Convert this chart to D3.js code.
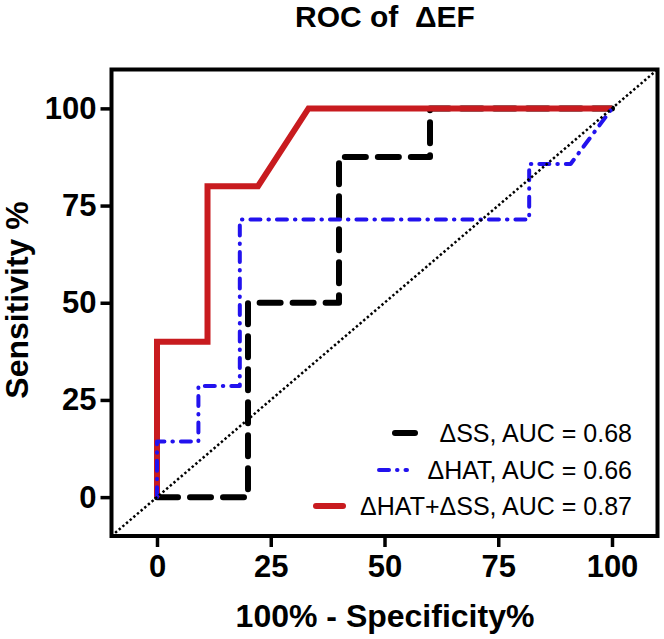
<!DOCTYPE html>
<html>
<head>
<meta charset="utf-8">
<script src="https://cdn.jsdelivr.net/npm/d3@7"></script>
<style>
  body { margin: 0; background: #fff; }
  svg { display: block; font-family: "Liberation Sans", Arial, sans-serif; }
</style>
</head>
<body>
<svg id="chart" width="664" height="639"></svg>
<script>
// ---- data ----
const tickValues = [0, 25, 50, 75, 100];
const ssX   = [0, 20, 20, 40, 40, 60, 60, 100];
const ssY   = [0, 0, 50, 50, 87.5, 87.5, 100, 100];
const hatX  = [0, 0, 9.1, 9.1, 18.2, 18.2, 81.8, 81.8, 90.9, 100];
const hatY  = [0, 14.3, 14.3, 28.6, 28.6, 71.4, 71.4, 85.7, 85.7, 100];
const combX = [0, 0, 11.1, 11.1, 22.2, 33.3, 100];
const combY = [0, 40, 40, 80, 80, 100, 100];
const refX  = [-10, 110];
const refY  = [-10, 110];
const legendLabels = ["\u0394SS, AUC = 0.68", "\u0394HAT, AUC = 0.66", "\u0394HAT+\u0394SS, AUC = 0.87"];

const svg = d3.select("#chart");
const x = d3.scaleLinear().domain([-10, 110]).range([111.5, 657.5]);
const y = d3.scaleLinear().domain([-10, 110]).range([536, 69.5]);

const toPts = (xs, ys) => xs.map((v, i) => [v, ys[i]]);
const line = d3.line().x(d => x(d[0])).y(d => y(d[1]));

// title
svg.append("text")
  .attr("x", 385).attr("y", 27)
  .attr("text-anchor", "middle")
  .attr("font-size", 30).attr("font-weight", "bold")
  .style("white-space", "pre")
  .text("ROC of  \u0394EF");

// axes
const xAxis = svg.append("g").attr("transform", `translate(0,${y(-10)})`)
  .call(d3.axisBottom(x).tickValues(tickValues).tickSize(11).tickPadding(8));
const yAxis = svg.append("g").attr("transform", `translate(${x(-10)},0)`)
  .call(d3.axisLeft(y).tickValues(tickValues).tickSize(11).tickPadding(4));
[xAxis, yAxis].forEach(g => {
  g.select(".domain").remove();
  g.selectAll(".tick line").attr("stroke", "#000").attr("stroke-width", 3.5);
  g.selectAll(".tick text").attr("fill", "#000")
    .attr("font-size", 31).attr("font-weight", "bold")
    .attr("font-family", "Liberation Sans, Arial, sans-serif");
});

// frame
svg.append("rect")
  .attr("x", x(-10)).attr("y", y(110))
  .attr("width", x(110) - x(-10)).attr("height", y(-10) - y(110))
  .attr("fill", "none").attr("stroke", "#000").attr("stroke-width", 4);

// curves
svg.append("path").datum(toPts(ssX, ssY)).attr("d", line)
  .attr("fill", "none").attr("stroke", "#000").attr("stroke-width", 6)
  .attr("stroke-linecap", "round").attr("stroke-linejoin", "round")
  .attr("stroke-dasharray", "21,12");
svg.append("path").datum(toPts(combX, combY)).attr("d", line)
  .attr("fill", "none").attr("stroke", "#C81B1F").attr("stroke-width", 6)
  .attr("stroke-linejoin", "miter");
svg.append("path").datum(toPts(hatX, hatY)).attr("d", line)
  .attr("fill", "none").attr("stroke", "#2212EE").attr("stroke-width", 4)
  .attr("stroke-linecap", "round").attr("stroke-linejoin", "round")
  .attr("stroke-dasharray", "10,8,0.5,8");
svg.append("path").datum(toPts(refX, refY)).attr("d", line)
  .attr("fill", "none").attr("stroke", "#000").attr("stroke-width", 2.5)
  .attr("stroke-dasharray", "2.4,2.4");

// axis titles
svg.append("text")
  .attr("x", 385).attr("y", 627)
  .attr("text-anchor", "middle")
  .attr("font-size", 32).attr("font-weight", "bold")
  .text("100% - Specificity%");
svg.append("text")
  .attr("transform", "translate(28,300) rotate(-90)")
  .attr("text-anchor", "middle")
  .attr("font-size", 32).attr("font-weight", "bold")
  .text("Sensitivity %");

// legend
const legendStyles = [
  { color: "#000", w: 6, dash: null, x1: 395, x2: 415 },
  { color: "#2212EE", w: 4, dash: "10,8,0.5,8", x1: 379, x2: 407 },
  { color: "#C81B1F", w: 6, dash: null, x1: 316, x2: 343 }
];
const legendY = [433, 470, 506];
const lg = svg.append("g");
legendLabels.forEach((lab, i) => {
  const s = legendStyles[i];
  lg.append("line")
    .attr("x1", s.x1).attr("x2", s.x2)
    .attr("y1", legendY[i]).attr("y2", legendY[i])
    .attr("stroke", s.color).attr("stroke-width", s.w)
    .attr("stroke-linecap", "round")
    .attr("stroke-dasharray", s.dash);
  lg.append("text")
    .attr("x", 632).attr("y", legendY[i] + 9)
    .attr("text-anchor", "end")
    .attr("font-size", 25)
    .text(lab);
});
</script>
</body>
</html>
